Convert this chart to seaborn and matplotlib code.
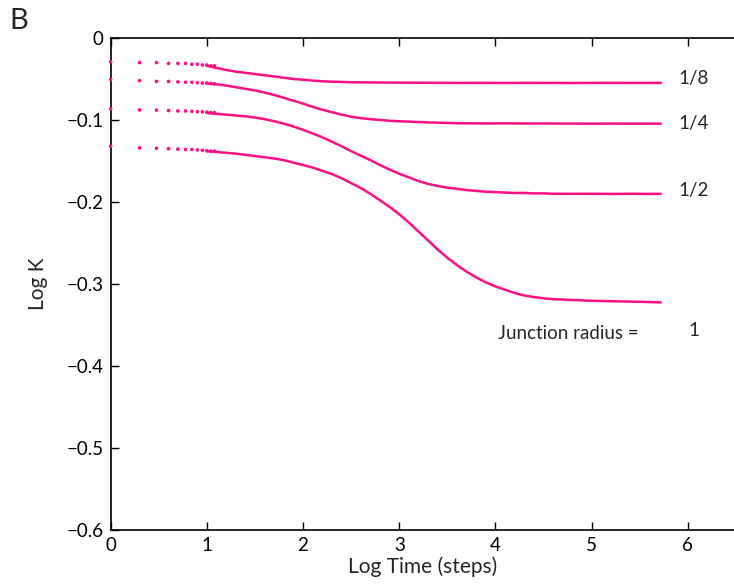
import numpy as np
import pandas as pd
import matplotlib
matplotlib.use("Agg")
import matplotlib.pyplot as plt
import seaborn as sns

# ---- data ----
radii = ["1/8", "1/4", "1/2", "1"]

# early time steps t = 1..12, drawn as separate dots (x = log10 t)
x_dots = [0.0, 0.301, 0.477, 0.602, 0.699, 0.778, 0.845, 0.903, 0.954, 1.0, 1.041, 1.079]
y_dots_r8 = [-0.029, -0.030, -0.030, -0.031, -0.031, -0.031, -0.032, -0.032, -0.033, -0.033, -0.034, -0.034]
y_dots_r4 = [-0.0506, -0.052, -0.053, -0.053, -0.0535, -0.054, -0.054, -0.0545, -0.055, -0.055, -0.0555, -0.056]
y_dots_r2 = [-0.0865, -0.0877, -0.088, -0.0885, -0.089, -0.089, -0.0895, -0.090, -0.090, -0.0905, -0.091, -0.091]
y_dots_r1 = [-0.132, -0.134, -0.1345, -0.135, -0.1355, -0.136, -0.136, -0.1365, -0.137, -0.1375, -0.138, -0.138]

# later time steps, dense enough to look like a continuous line
x_line = [1.0, 1.1, 1.2, 1.3, 1.4, 1.5, 1.6, 1.7, 1.8, 1.9,
          2.0, 2.1, 2.2, 2.3, 2.4, 2.5, 2.6, 2.7, 2.8, 2.9,
          3.0, 3.1, 3.2, 3.3, 3.4, 3.5, 3.6, 3.7, 3.8, 3.9,
          4.0, 4.1, 4.2, 4.3, 4.4, 4.5, 4.6,
          4.8, 5.0, 5.2, 5.4, 5.6, 5.72]
y_line_r8 = [-0.034, -0.0365, -0.039, -0.041, -0.0425, -0.044, -0.0455, -0.047, -0.0485, -0.050,
             -0.051, -0.052, -0.0528, -0.0533, -0.0536, -0.054, -0.0541, -0.0542, -0.0543, -0.0544,
             -0.0545, -0.0545, -0.0546, -0.0546, -0.0547, -0.0547, -0.0548, -0.0548, -0.0547, -0.0547,
             -0.0548, -0.0549, -0.0548, -0.0547, -0.0547, -0.0548, -0.0548,
             -0.0549, -0.0548, -0.0547, -0.0548, -0.0548, -0.0548]
y_line_r4 = [-0.0555, -0.0565, -0.058, -0.060, -0.062, -0.064, -0.0665, -0.0695, -0.073, -0.0765,
             -0.080, -0.084, -0.0875, -0.0905, -0.0935, -0.096, -0.0978, -0.099, -0.100, -0.101,
             -0.1016, -0.102, -0.1025, -0.103, -0.1033, -0.1036, -0.104, -0.104, -0.1041, -0.1042,
             -0.1042, -0.1041, -0.1042, -0.1043, -0.1043, -0.1042, -0.1043,
             -0.1044, -0.1045, -0.1044, -0.1045, -0.1045, -0.1045]
y_line_r2 = [-0.0915, -0.0925, -0.0935, -0.0945, -0.0955, -0.097, -0.099, -0.1015, -0.1045, -0.108,
             -0.112, -0.1165, -0.121, -0.1265, -0.132, -0.138, -0.1435, -0.149, -0.155, -0.1605,
             -0.1655, -0.170, -0.1745, -0.178, -0.1805, -0.1825, -0.184, -0.1855, -0.1865, -0.1875,
             -0.188, -0.1885, -0.189, -0.189, -0.1895, -0.1895, -0.190,
             -0.190, -0.190, -0.1902, -0.190, -0.1902, -0.190]
y_line_r1 = [-0.138, -0.139, -0.140, -0.141, -0.1425, -0.144, -0.1455, -0.147, -0.149, -0.152,
             -0.155, -0.158, -0.162, -0.166, -0.171, -0.177, -0.183, -0.190, -0.198, -0.206,
             -0.215, -0.225, -0.236, -0.247, -0.258, -0.268, -0.277, -0.285, -0.292, -0.298,
             -0.303, -0.307, -0.311, -0.314, -0.316, -0.3175, -0.3185,
             -0.3195, -0.3205, -0.321, -0.3215, -0.322, -0.3225]

x_ticks = [0, 1, 2, 3, 4, 5, 6]
y_ticks = [0, -0.1, -0.2, -0.3, -0.4, -0.5, -0.6]
y_tick_labels = ["0", "\u22120.1", "\u22120.2", "\u22120.3", "\u22120.4", "\u22120.5", "\u22120.6"]

# ---- tables ----
dots = pd.concat([
    pd.DataFrame({"x": x_dots, "y": y, "radius": r})
    for r, y in zip(radii, [y_dots_r8, y_dots_r4, y_dots_r2, y_dots_r1])
])
lines = pd.concat([
    pd.DataFrame({"x": x_line, "y": y, "radius": r})
    for r, y in zip(radii, [y_line_r8, y_line_r4, y_line_r2, y_line_r1])
])

# ---- style ----
sns.set_style("ticks")
plt.rcParams["font.family"] = ["Lato", "DejaVu Sans"]
plt.rcParams["axes.unicode_minus"] = True

pink = "#ff0f85"
pal = {r: pink for r in radii}

fig = plt.figure(figsize=(7.34, 5.86), dpi=100)
ax = fig.add_axes([0.1507, 0.0956, 1.0 - 0.1507, 0.8396])

sns.lineplot(data=lines, x="x", y="y", hue="radius", palette=pal, ax=ax,
             linewidth=1.8, legend=False, sort=True)
sns.scatterplot(data=dots, x="x", y="y", hue="radius", palette=pal, ax=ax,
                s=7, linewidth=0, legend=False, clip_on=False, zorder=3)

ax.set_xlim(0, 6.48)
ax.set_ylim(-0.6, 0)
ax.set_xticks(x_ticks)
ax.set_xticklabels([str(v) for v in x_ticks])
ax.set_yticks(y_ticks)
ax.set_yticklabels(y_tick_labels)
ax.tick_params(axis="both", direction="in", length=6, width=1, labelsize=13.5,
               top=True, right=False, colors="black")
ax.tick_params(axis="x", pad=5)
ax.tick_params(axis="y", pad=5)
for s in ["left", "bottom", "top"]:
    ax.spines[s].set_linewidth(1.2)
    ax.spines[s].set_color("black")
ax.spines["right"].set_visible(False)

ax.set_xlabel("Log Time (steps)", fontsize=15, labelpad=2)
ax.set_ylabel("Log K", fontsize=15, labelpad=13)

# curve labels
ax.text(5.90, -0.050, "1/8", fontsize=13.5, va="center", ha="left")
ax.text(5.90, -0.1037, "1/4", fontsize=13.5, va="center", ha="left")
ax.text(5.90, -0.186, "1/2", fontsize=13.5, va="center", ha="left")
ax.text(4.03, -0.361, "Junction radius =", fontsize=13.5, va="center", ha="left")
ax.text(6.06, -0.357, "1", fontsize=13.5, va="center", ha="center")

fig.text(0.013, 0.965, "B", fontsize=21, va="center", ha="left")

fig.savefig("out.png", dpi=100)
